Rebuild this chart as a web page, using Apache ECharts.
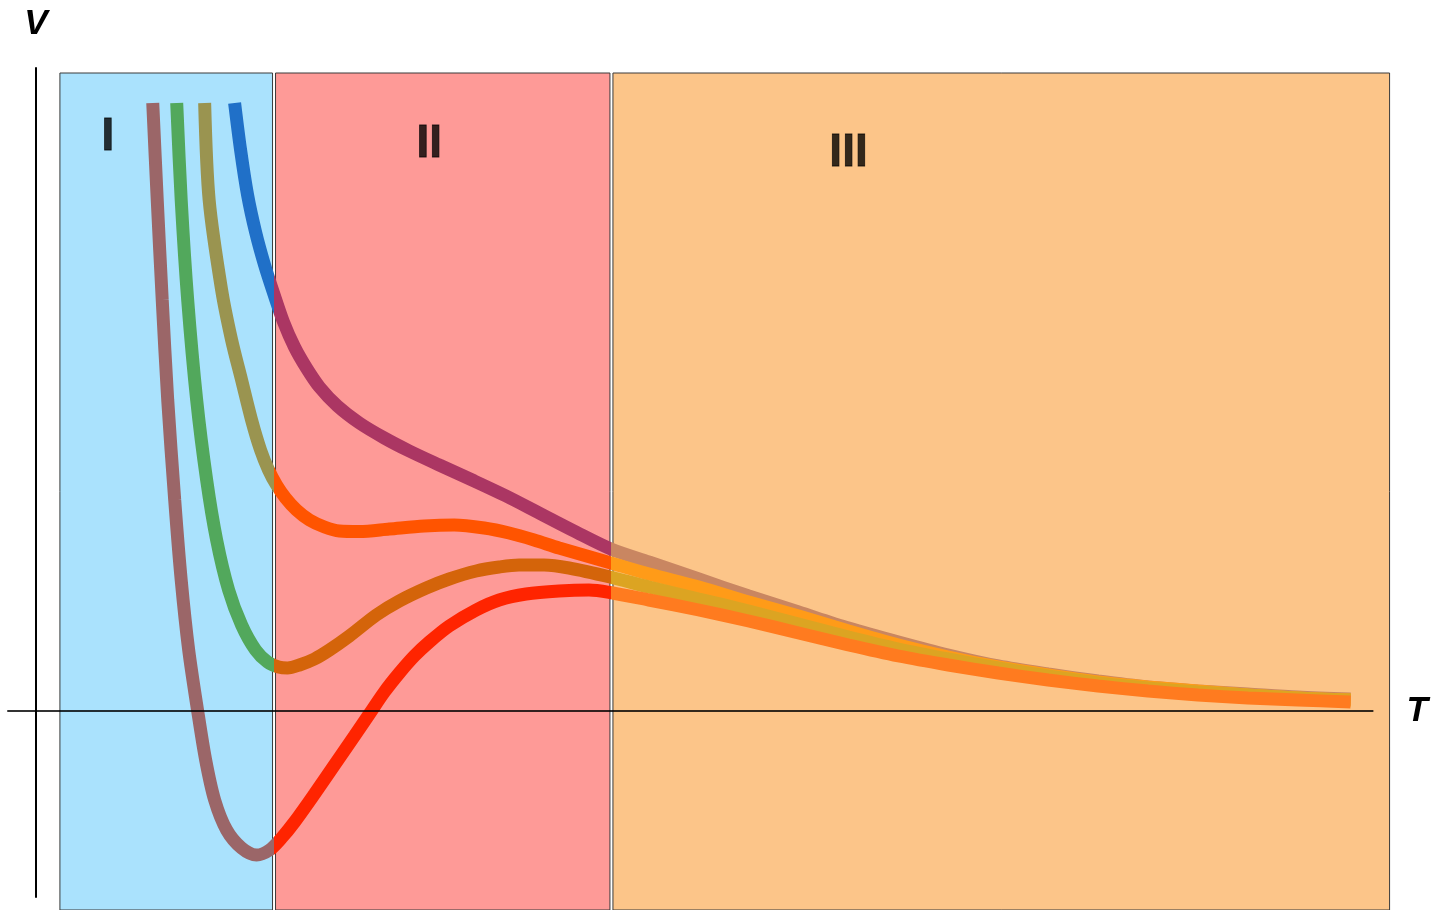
<!DOCTYPE html>
<html>
<head>
<meta charset="utf-8">
<title>V - T</title>
<script src="https://cdn.jsdelivr.net/npm/echarts@6/dist/echarts.min.js"></script>
<style>
  html, body { margin: 0; padding: 0; background: #fff; overflow: hidden; }
  #chart { width: 1431px; height: 910px; }
</style>
</head>
<body>
<div id="chart"></div>
<script>
// curves, [T, V]
const curveRed = [
  [11.7, 60.8], [12.15, 51.1], [12.65, 41.1], [13.2, 31.1], [13.9, 21.1], [14.55, 13.1],
  [15.3, 6.1], [16.2, 0], [17.0, -4.9], [17.9, -8.9], [19.1, -11.9], [20.6, -13.7],
  [22.1, -14.4], [23.4, -13.9], [24.6, -12.7], [25.9, -11.1], [27.9, -8.3], [29.9, -5.4],
  [31.9, -2.5], [33.4, -0.3], [34.9, 1.9], [36.4, 3.8], [37.9, 5.5], [39.4, 6.9],
  [41.4, 8.5], [44.1, 10.1], [46.4, 11.1], [49.1, 11.7], [52.4, 12.0], [55.4, 12.1],
  [57.5, 11.85], [61.4, 11.1], [66.4, 10.1], [71.4, 9.0], [76.4, 7.8], [81.4, 6.6],
  [86.4, 5.5], [91.4, 4.6], [96.4, 3.8], [101.4, 3.1], [106.4, 2.5], [111.4, 2.0],
  [116.4, 1.6], [121.4, 1.3], [126.4, 1.1], [131.7, 0.9]
];
const curveGreen = [
  [14.1, 60.8], [14.55, 51.1], [15.2, 41.1], [16.1, 31.1], [17.1, 23.1], [18.1, 17.1],
  [19.3, 12.1], [20.6, 8.6], [22.0, 6.1], [23.2, 4.9], [24.3, 4.4], [25.2, 4.3],
  [26.4, 4.6], [27.9, 5.2], [29.4, 6.1], [31.4, 7.5], [34.1, 9.6], [36.4, 11.0],
  [39.1, 12.3], [41.4, 13.2], [44.1, 14.0], [46.4, 14.4], [48.4, 14.6], [50.9, 14.6],
  [53.4, 14.3], [57.5, 13.4], [61.4, 12.4], [66.4, 11.2], [71.4, 10.0], [76.4, 8.7],
  [81.4, 7.4], [86.4, 6.2], [91.4, 5.2], [96.4, 4.3], [101.4, 3.5], [106.4, 2.8],
  [111.4, 2.3], [116.4, 1.9], [121.4, 1.6], [126.4, 1.3], [131.7, 1.1]
];
const curveYellow = [
  [16.9, 60.8], [17.35, 51.1], [18.6, 42.1], [19.6, 37.1], [20.6, 33.1], [21.6, 29.1],
  [22.5, 26.1], [23.3, 24.1], [24.1, 22.6], [25.0, 21.3], [26.1, 20.1], [27.4, 19.1],
  [28.9, 18.4], [30.4, 18.0], [32.4, 17.95], [35.4, 18.2], [38.9, 18.5], [41.9, 18.6],
  [44.9, 18.3], [47.4, 17.8], [49.9, 17.1], [52.4, 16.3], [57.6, 14.8], [61.4, 13.7],
  [66.4, 12.4], [71.4, 10.9], [76.4, 9.5], [81.4, 8.0], [86.4, 6.6], [91.4, 5.4],
  [96.4, 4.4], [101.4, 3.6], [106.4, 2.9], [111.4, 2.4], [116.4, 2.0], [121.4, 1.6],
  [126.4, 1.3], [131.7, 1.1]
];
const curveBlue = [
  [19.9, 60.8], [20.5, 56.1], [21.2, 51.6], [22.0, 47.9], [22.9, 44.6], [23.8, 41.8],
  [24.8, 38.9], [25.9, 36.4], [27.1, 34.3], [28.4, 32.4], [30.2, 30.5], [32.4, 28.8],
  [34.9, 27.3], [37.4, 26.0], [40.4, 24.6], [43.7, 23.1], [47.1, 21.5], [50.4, 19.8],
  [53.9, 18.0], [57.6, 16.2], [61.4, 14.9], [66.4, 13.2], [71.4, 11.5], [76.4, 9.9],
  [81.4, 8.3], [86.4, 6.9], [91.4, 5.6], [96.4, 4.5], [101.4, 3.7], [106.4, 3.0],
  [111.4, 2.4], [116.4, 2.0], [121.4, 1.7], [126.4, 1.4], [131.7, 1.2]
];

// regions: [T from, T to, V top, V bottom]
const regions = [
  [2.4, 23.7, 63.8, -19.9],
  [24.0, 57.5, 63.8, -19.9],
  [57.8, 135.6, 63.8, -19.9]
];
const regionNames = ['I', 'II', 'III'];
const regionNamePos = [[7.2, 57.4], [39.4, 56.7], [81.4, 55.8]];

const regionColors = ['#aae2fd', '#fe9a97', '#fcc589'];
// how each curve looks inside region I, II, III
const curveLooks = [
  ['#2070c8', '#ab3663', '#c98661'],  // blue
  ['#9a9450', '#ff5400', '#ff9b18'],  // yellow
  ['#52a85c', '#d4640a', '#dca422'],  // green
  ['#9b6668', '#ff2400', '#ff7b1f']   // red
];
const curves = [curveBlue, curveYellow, curveGreen, curveRed];

const chart = echarts.init(document.getElementById('chart'));

const cut1 = (regions[0][1] + regions[1][0]) / 2;
const cut2 = (regions[1][1] + regions[2][0]) / 2;

const lineSeries = curves.map((c) => ({
  type: 'line',
  data: c,
  smooth: 0.3,
  showSymbol: false,
  z: 3,
  lineStyle: { width: 13, cap: 'butt' }
}));

const visualMaps = curveLooks.map((cols, i) => ({
  type: 'piecewise',
  show: false,
  dimension: 0,
  seriesIndex: i + 1,
  pieces: [
    { lt: cut1, color: cols[0] },
    { gte: cut1, lt: cut2, color: cols[1] },
    { gte: cut2, color: cols[2] }
  ]
}));

chart.setOption({
  animation: false,
  grid: { left: 8, right: 46, top: 68, bottom: 13, containLabel: false },
  xAxis: {
    type: 'value',
    min: -2.8,
    max: 133.9,
    z: 10,
    name: 'T',
    nameLocation: 'end',
    nameGap: 34,
    nameTextStyle: { fontFamily: 'Liberation Sans', fontSize: 35, fontWeight: 'bold', fontStyle: 'italic', color: '#000' },
    axisLine: { onZero: true, lineStyle: { color: 'rgba(0,0,0,0.8)', width: 2 } },
    axisTick: { show: false },
    axisLabel: { show: false },
    splitLine: { show: false }
  },
  yAxis: {
    type: 'value',
    min: -18.6,
    max: 64.3,
    z: 10,
    name: 'V',
    nameLocation: 'end',
    nameGap: 26,
    nameTextStyle: { fontFamily: 'Liberation Sans', fontSize: 35, fontWeight: 'bold', fontStyle: 'italic', color: '#000', align: 'center' },
    axisLine: { onZero: true, lineStyle: { color: '#000', width: 2 } },
    axisTick: { show: false },
    axisLabel: { show: false },
    splitLine: { show: false }
  },
  visualMap: visualMaps,
  series: [
    {
      type: 'custom',
      z: 1,
      clip: false,
      silent: true,
      encode: { x: [0, 1], y: [2, 3] },
      data: regions,
      renderItem: function (params, api) {
        const p0 = api.coord([api.value(0), api.value(2)]);
        const p1 = api.coord([api.value(1), api.value(3)]);
        return {
          type: 'rect',
          shape: { x: p0[0], y: p0[1], width: p1[0] - p0[0], height: p1[1] - p0[1] },
          style: { fill: regionColors[params.dataIndex], stroke: '#3a3a3a', lineWidth: 1 }
        };
      }
    },
    ...lineSeries,
    {
      type: 'scatter',
      z: 4,
      symbolSize: 0,
      silent: true,
      data: regionNamePos.map((p, i) => ({ value: p, name: regionNames[i] })),
      label: {
        show: true,
        position: 'inside',
        formatter: '{b}',
        fontFamily: 'Liberation Sans',
        fontWeight: 'bold',
        fontSize: 46,
        color: '#000',
        textBorderColor: '#000',
        textBorderWidth: 0.8
      }
    }
  ]
});
</script>
</body>
</html>
